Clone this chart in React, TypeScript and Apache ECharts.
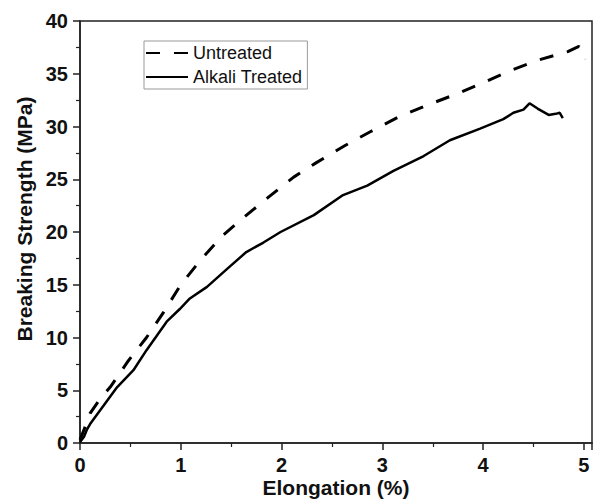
import React, { useEffect, useRef } from "react";
import * as echarts from "echarts";

const untreatedElongation = [0, 0.05, 0.1, 0.2, 0.3, 0.48, 0.66, 0.83, 1.0, 1.21, 1.42, 1.64, 1.87, 2.12, 2.35, 2.63, 2.88, 3.16, 3.44, 3.74, 4.01, 4.27, 4.55, 4.84, 4.95, 5.0, 5.02];
const untreatedStrength = [0.3, 1.5, 2.8, 4.2, 5.3, 7.8, 10.0, 12.4, 15.0, 17.5, 19.7, 21.5, 23.3, 25.2, 26.6, 28.2, 29.5, 30.9, 32.0, 33.1, 34.2, 35.3, 36.3, 37.1, 37.6, 37.0, 36.4];

const treatedElongation = [0, 0.04, 0.07, 0.1, 0.2, 0.36, 0.53, 0.66, 0.86, 0.99, 1.09, 1.26, 1.46, 1.65, 1.82, 1.99, 2.32, 2.61, 2.85, 3.11, 3.41, 3.67, 3.97, 4.2, 4.3, 4.4, 4.46, 4.54, 4.65, 4.72, 4.76, 4.79];
const treatedStrength = [0.1, 0.6, 1.3, 1.8, 3.1, 5.2, 6.9, 8.8, 11.5, 12.7, 13.7, 14.8, 16.5, 18.1, 19.0, 20.0, 21.6, 23.5, 24.4, 25.8, 27.2, 28.7, 29.8, 30.7, 31.3, 31.6, 32.2, 31.7, 31.1, 31.2, 31.3, 30.8];

const seriesNames = ["Untreated", "Alkali Treated"];
const xTitle = "Elongation (%)";
const yTitle = "Breaking Strength (MPa)";

const FONT = "'Liberation Sans', Arial, sans-serif";

export default function App() {
  const ref = useRef<HTMLDivElement>(null);
  useEffect(() => {
    document.body.style.margin = "0";
    if (!ref.current) return;
    const chart = echarts.init(ref.current, null, { renderer: "svg" });
    const zip = (xs: number[], ys: number[]) => xs.map((x, i) => [x, ys[i]]);
    const axisCommon = {
      axisLine: { show: true, lineStyle: { color: "#222", width: 1.5 } },
      axisTick: { show: true, inside: false, length: 7, lineStyle: { color: "#222", width: 1.5 } },
      minorTick: { show: true, splitNumber: 2, length: 4, lineStyle: { color: "#222", width: 1.2 } },
      splitLine: { show: false },
      minorSplitLine: { show: false },
    };
    chart.setOption({
      animation: false,
      backgroundColor: "#fff",
      textStyle: { fontFamily: FONT },
      grid: {
        left: 80,
        right: 3,
        top: 21,
        bottom: 57,
        show: true,
        borderColor: "#222",
        borderWidth: 1.5,
        containLabel: false,
      },
      xAxis: {
        type: "value",
        min: 0,
        max: 5.08,
        interval: 1,
        ...axisCommon,
        axisLabel: {
          margin: 12,
          fontSize: 20,
          fontWeight: "bold",
          color: "#111",
          fontFamily: FONT,
          showMaxLabel: false,
          formatter: (v: number) => (Number.isInteger(v) ? String(v) : ""),
        },
      },
      yAxis: {
        type: "value",
        min: 0,
        max: 40,
        interval: 5,
        ...axisCommon,
        axisLabel: {
          margin: 12,
          fontSize: 20,
          fontWeight: "bold",
          color: "#111",
          fontFamily: FONT,
        },
      },
      legend: {
        show: true,
        orient: "vertical",
        left: 144,
        top: 41,
        padding: [3, 5, 3, 1],
        itemGap: 6,
        itemWidth: 42,
        itemHeight: 14,
        borderColor: "#999",
        borderWidth: 1,
        backgroundColor: "#fff",
        itemStyle: { opacity: 0 },
        textStyle: { fontSize: 18, color: "#111", fontFamily: FONT },
        data: seriesNames,
      },
      graphic: [
        {
          type: "text",
          x: 24,
          y: 219,
          rotation: Math.PI / 2,
          style: {
            text: yTitle,
            fontSize: 21,
            fontWeight: "bold",
            fontFamily: FONT,
            fill: "#111",
            textAlign: "center",
            textVerticalAlign: "middle",
          },
        },
        {
          type: "text",
          x: 336,
          y: 487,
          style: {
            text: xTitle,
            fontSize: 21,
            fontWeight: "bold",
            fontFamily: FONT,
            fill: "#111",
            textAlign: "center",
            textVerticalAlign: "middle",
          },
        },
      ],
      series: [
        {
          name: seriesNames[0],
          type: "line",
          data: zip(untreatedElongation, untreatedStrength),
          showSymbol: false,
          symbol: "none",
          lineStyle: { color: "#000", width: 3, type: [14, 14] },
          itemStyle: { color: "#000" },
        },
        {
          name: seriesNames[1],
          type: "line",
          data: zip(treatedElongation, treatedStrength),
          showSymbol: false,
          symbol: "none",
          lineStyle: { color: "#000", width: 2.5, type: "solid" },
          itemStyle: { color: "#000" },
        },
      ],
    });
    return () => chart.dispose();
  }, []);
  return (
    <div
      ref={ref}
      style={{ position: "absolute", left: 0, top: 0, width: 595, height: 500 }}
    />
  );
}
